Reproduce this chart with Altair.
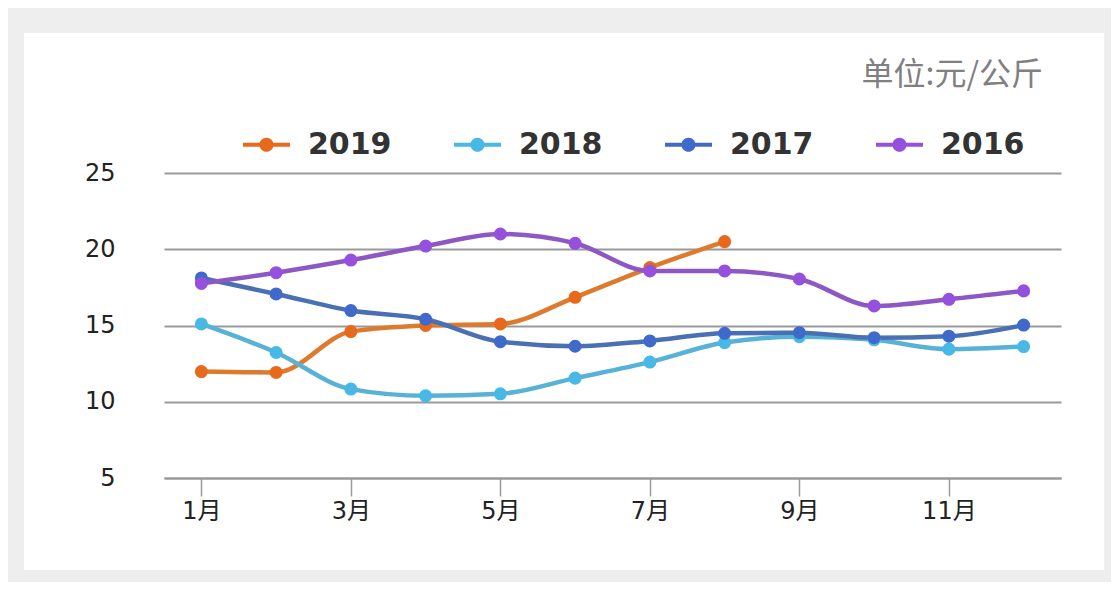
import altair as alt
import pandas as pd

months = list(range(1, 13))
series_names = ["2019", "2018", "2017", "2016"]
y2019 = [11.98, 11.92, 14.6, 15.0, 15.1, 16.85, 18.8, 20.5]
y2018 = [15.1, 13.23, 10.83, 10.39, 10.52, 11.55, 12.6, 13.88, 14.27, 14.06, 13.45, 13.62]
y2017 = [18.12, 17.07, 15.98, 15.41, 13.94, 13.64, 13.99, 14.49, 14.53, 14.2, 14.3, 15.03]
y2016 = [17.76, 18.46, 19.29, 20.21, 21.0, 20.39, 18.58, 18.58, 18.05, 16.28, 16.72, 17.27]
line_colors = ["#de7a2e", "#58b2d6", "#4a70b4", "#8d58c4"]
dot_colors = ["#e8691c", "#48b8e6", "#3f6acc", "#9650de"]
x_tick_values = [1, 3, 5, 7, 9, 11]
y_tick_values = [5, 10, 15, 20, 25]
unit_text = "单位:元/公斤"

rows = []
for name, vals in zip(series_names, [y2019, y2018, y2017, y2016]):
    for m, v in zip(months, vals):
        rows.append({"month": m, "price": v, "year": name})
df = pd.DataFrame(rows)

W, H = 897, 305
legend_path = ("M-1,-0.09L1,-0.09L1,0.09L-1,0.09Z "
               "M0,-0.3A0.3,0.3,0,1,1,0,0.3A0.3,0.3,0,1,1,0,-0.3Z")

one = pd.DataFrame({"a": [0]})
FRAME = "#eeeeee"


def frame_rect(x1, x2, y1, y2):
    return alt.Chart(one).mark_rect(color=FRAME).encode(
        x=alt.value(x1), x2=alt.value(x2), y=alt.value(y1), y2=alt.value(y2)
    )


frame_left = frame_rect(-156, -140, -165, 409)
frame_top = frame_rect(-156, 947, -165, -140)
frame_right = frame_rect(940, 947, -165, 409)
frame_bottom = frame_rect(-156, 947, 397, 409)

unit = alt.Chart(one).mark_text(
    align="right", baseline="middle", fontSize=32, color="#808080",
    font="Noto Sans CJK SC"
).encode(x=alt.value(879), y=alt.value(-98), text=alt.value(unit_text))

x_enc = alt.X("month:Q", scale=alt.Scale(domain=[0.5, 12.5], nice=False),
              axis=alt.Axis(values=x_tick_values, labelExpr="datum.value + '月'",
                            grid=False, title=None, domainColor="#9a9a9a",
                            domainWidth=2, tickColor="#9a9a9a", tickWidth=1.5,
                            tickSize=18, labelPadding=3, labelFontSize=24,
                            labelColor="#222", labelFont="DejaVu Sans, Noto Sans CJK SC"))
y_enc = alt.Y("price:Q", scale=alt.Scale(domain=[5, 25], nice=False, zero=False),
              axis=alt.Axis(values=y_tick_values, title=None, domain=False,
                            ticks=False, tickSize=0, labelPadding=49,
                            gridColor="#9a9a9a", gridWidth=2, labelFontSize=24,
                            labelColor="#222", labelFont="DejaVu Sans"))

lines = alt.Chart(df).mark_line(interpolate="monotone", strokeWidth=4.5).encode(
    x=x_enc, y=y_enc,
    color=alt.Color("year:N", scale=alt.Scale(domain=series_names, range=line_colors),
                    legend=None),
    detail="year:N",
)

points = alt.Chart(df).mark_point(filled=True, size=170, opacity=1).encode(
    x=x_enc, y=y_enc,
    color=alt.Color("year:N", scale=alt.Scale(domain=series_names, range=dot_colors),
                    legend=alt.Legend(orient="none", legendX=79, legendY=-52,
                                      direction="horizontal", columns=4,
                                      title=None, symbolType=legend_path,
                                      symbolSize=2209, symbolStrokeWidth=0,
                                      labelFontSize=30, labelFontWeight="bold",
                                      labelFont="DejaVu Sans", labelColor="#333",
                                      labelOffset=18, columnPadding=62, padding=0,
                                      symbolOpacity=1)),
)

chart = alt.layer(frame_left, frame_top, frame_right, frame_bottom, unit,
                  lines, points).resolve_scale(
    color="independent"
).properties(
    width=W, height=H, background="white", padding=0,
).configure_view(stroke=None)

chart.save("out.html", embed_options={"renderer": "svg", "actions": False})
